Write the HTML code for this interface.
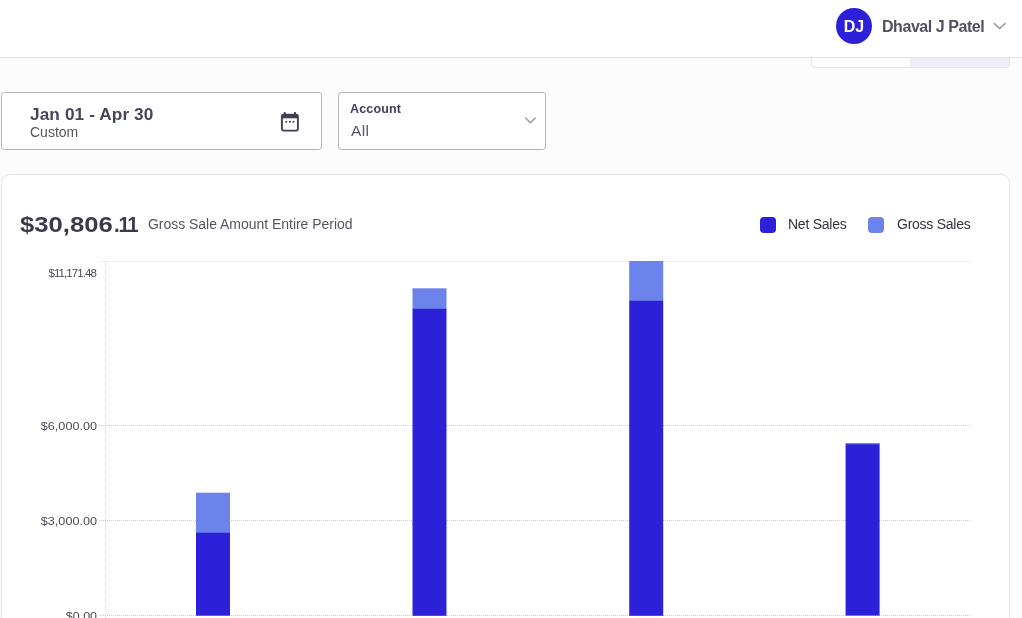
<!DOCTYPE html>
<html lang="en">
<head>
<meta charset="utf-8">
<title>Sales Dashboard</title>
<style>
*{box-sizing:border-box;margin:0;padding:0}
html,body{width:1022px;height:618px;overflow:hidden;background:#fcfcfc;font-family:"Liberation Sans",sans-serif;color:#3d3d4e}
.abs{position:absolute}
#header{position:absolute;left:0;top:0;width:1022px;height:58px;background:#fff;border-bottom:1px solid #e6e6e8;box-shadow:0 1px 3px rgba(0,0,0,0.025);z-index:5}
#avatar{position:absolute;left:836px;top:8px;width:36px;height:36px;border-radius:50%;background:#2d20d9;color:#fff;font-weight:bold;font-size:16px;line-height:37.6px;text-align:center;letter-spacing:-0.1px}
#uname{position:absolute;left:882px;top:16.6px;font-size:16px;font-weight:bold;color:#50505e;line-height:20px;white-space:nowrap;letter-spacing:-0.45px}
#toggle{position:absolute;left:811px;top:40px;width:199px;height:28px;border:1px solid #e2e3ef;border-radius:3px;background:#fff;overflow:hidden;z-index:1}
#toggle i{position:absolute;left:98px;top:0;width:100px;height:28px;background:#eeeffb}
.box{position:absolute;top:92px;height:58px;background:#fff;border:1px solid #b2b2b4;border-radius:3.5px}
#date{left:1px;width:321px}
#acct{left:338px;width:208px}
#date b{position:absolute;left:28px;top:9.5px;font-size:16.5px;line-height:22px;color:#46465a;white-space:nowrap;letter-spacing:0.1px;transform:scaleX(1.044);transform-origin:0 0}
#date span{position:absolute;left:28px;top:30px;font-size:14px;line-height:18px;color:#55555f}
#acct b{position:absolute;left:11px;top:7px;font-size:12.5px;line-height:18px;color:#3f3f5a;letter-spacing:0.15px}
#acct span{position:absolute;left:12px;top:28px;font-size:15.5px;line-height:20px;color:#55555f;letter-spacing:0.3px}
#card{position:absolute;left:1px;top:174px;width:1009px;height:470px;background:#fff;border:1px solid #e6e6e8;border-radius:9px}
#total{position:absolute;left:20px;top:209.8px;font-size:22px;font-weight:bold;line-height:30px;color:#3a3a4c;letter-spacing:0;white-space:nowrap}
#total span{position:absolute;top:0;display:block}
#total .a{left:0;transform:scaleX(1.166);transform-origin:0 0}
#total .b{left:94.1px;letter-spacing:-1.4px;transform:scaleX(0.93);transform-origin:0 0}
#total .b i{font-style:normal;letter-spacing:-2.6px}
#sub{position:absolute;left:148px;top:215px;font-size:14px;line-height:18px;color:#55555f;white-space:nowrap;letter-spacing:-0.03px}
.lg{position:absolute;top:217px;width:16px;height:16px;border-radius:4px}
.lt{position:absolute;top:214.8px;font-size:14px;line-height:18px;color:#33333d;white-space:nowrap;letter-spacing:-0.25px}
svg{position:absolute;left:0;top:0}
</style>
</head>
<body>
<div id="toggle"><i></i></div>
<div id="header">
  <div id="avatar">DJ</div>
  <div id="uname">Dhaval J Patel</div>
  <svg width="1022" height="58" viewBox="0 0 1022 58"><path d="M994.4 23.6 L999.7 28.5 L1005 23.6" fill="none" stroke="#9a9aa2" stroke-width="1.6" stroke-linecap="round" stroke-linejoin="round"/></svg>
</div>

<div class="box" id="date"><b>Jan 01 - Apr 30</b><span>Custom</span>
  <svg width="20" height="22" viewBox="0 0 20 22" style="left:277.6px;top:17.6px">
    <rect x="1.9" y="3.6" width="16" height="16" rx="1.8" fill="none" stroke="#3f3f55" stroke-width="1.9"/>
    <rect x="1.9" y="3.6" width="16" height="3.7" fill="#3f3f55"/>
    <rect x="3.8" y="1" width="1.9" height="4" rx=".6" fill="#3f3f55"/>
    <rect x="14.1" y="1" width="1.9" height="4" rx=".6" fill="#3f3f55"/>
    <circle cx="6.3" cy="10.7" r="1.05" fill="#3f3f55"/><circle cx="9.9" cy="10.7" r="1.05" fill="#3f3f55"/><circle cx="13.5" cy="10.7" r="1.05" fill="#3f3f55"/>
  </svg>
</div>
<div class="box" id="acct"><b>Account</b><span>All</span>
  <svg width="20" height="14" viewBox="0 0 20 14" style="left:181px;top:22px"><path d="M5.6 3.0 L10.4 7.7 L15.2 3.0" fill="none" stroke="#9a9aa2" stroke-width="1.6" stroke-linecap="round" stroke-linejoin="round"/></svg>
</div>

<div id="card"></div>
<div id="total" aria-label="$30,806.11"><span class="a">$30,806</span><span class="b">.<i>1</i>1</span></div>
<div id="sub">Gross Sale Amount Entire Period</div>
<div class="lg" style="left:760px;background:#2d20d9"></div><div class="lt" style="left:788px">Net Sales</div>
<div class="lg" style="left:868px;background:#6c83ec"></div><div class="lt" style="left:897px">Gross Sales</div>

<svg width="1022" height="618" viewBox="0 0 1022 618" font-family="Liberation Sans, sans-serif">
  <line x1="100" y1="261.5" x2="971" y2="261.5" stroke="#ececee" stroke-width="1"/>
  <line x1="105.5" y1="261" x2="105.5" y2="618" stroke="#d6d6dc" stroke-width="1" stroke-dasharray="1 1"/>
  <g stroke="#c9c9d1" stroke-width="1" stroke-dasharray="1 1">
    <line x1="99" y1="425.5" x2="971" y2="425.5"/>
    <line x1="99" y1="520.5" x2="971" y2="520.5"/>
    <line x1="99" y1="615.5" x2="971" y2="615.5"/>
  </g>
  <g font-size="11.5" fill="#4a4a55" text-anchor="end">
    <text x="97" y="277.3" textLength="48.6" lengthAdjust="spacing">$11,171.48</text>
    <text x="97" y="429.8" textLength="56.2" lengthAdjust="spacingAndGlyphs">$6,000.00</text>
    <text x="97" y="524.9" textLength="56.2" lengthAdjust="spacingAndGlyphs">$3,000.00</text>
    <text x="97" y="620.3" textLength="31.2" lengthAdjust="spacingAndGlyphs">$0.00</text>
  </g>
  <g>
    <rect x="196" y="492.7" width="34" height="41" fill="#6c83ec"/><rect x="196" y="532.7" width="34" height="83" fill="#2d20d9"/>
    <rect x="412.5" y="288.3" width="34" height="21" fill="#6c83ec"/><rect x="412.5" y="308.8" width="34" height="307" fill="#2d20d9"/>
    <rect x="629.2" y="261" width="34" height="40" fill="#6c83ec"/><rect x="629.2" y="300.8" width="34" height="315" fill="#2d20d9"/>
    <rect x="845.6" y="443" width="34" height="2" fill="#6c83ec"/><rect x="845.6" y="444.3" width="34" height="171.3" fill="#2d20d9"/>
  </g>
</svg>
</body>
</html>
